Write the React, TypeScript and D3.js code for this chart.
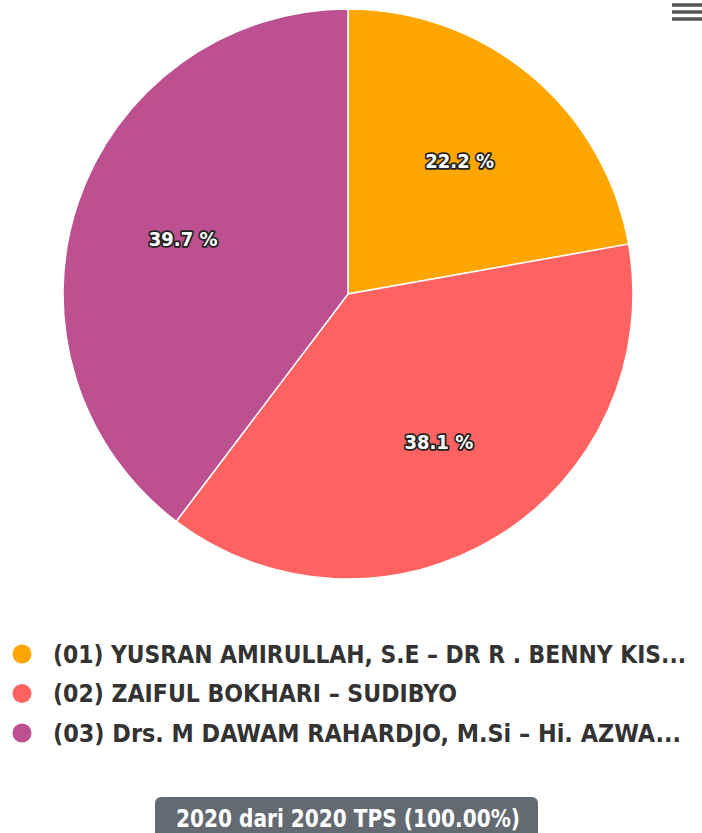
import { useMemo } from "react";
import * as d3 from "d3";

const NAMES = [
  "(01) YUSRAN AMIRULLAH, S.E – DR R . BENNY KIS...",
  "(02) ZAIFUL BOKHARI – SUDIBYO",
  "(03) Drs. M DAWAM RAHARDJO, M.Si – Hi. AZWA...",
];
const NAME_WIDTHS = [633, 404, 628];
const SHARES = [22.2, 38.1, 39.7];
const COLORS = ["#ffa600", "#ff6361", "#bc5090"];
const FOOTER = "2020 dari 2020 TPS (100.00%)";

const W = 702;
const H = 833;
const CX = 348;
const CY = 294;
const R = 285;
const FONT = "'Liberation Sans Narrow', 'DejaVu Sans Condensed', sans-serif";

export default function App() {
  const arcs = useMemo(
    () => d3.pie<number>().sort(null).value((d) => d)(SHARES),
    []
  );
  const arc = d3.arc<d3.PieArcDatum<number>>().innerRadius(0).outerRadius(R);
  const labelArc = d3
    .arc<d3.PieArcDatum<number>>()
    .innerRadius(R * 0.61)
    .outerRadius(R * 0.61);

  return (
    <svg
      width={W}
      height={H}
      style={{ position: "absolute", left: 0, top: 0, background: "#fff" }}
    >
      {/* menu icon */}
      {[5, 12, 19].map((y) => (
        <line key={y} x1={672} x2={702} y1={y} y2={y} stroke="#555" strokeWidth={3.5} />
      ))}

      <g transform={`translate(${CX},${CY})`}>
        {arcs.map((a, i) => (
          <path key={i} d={arc(a)!} fill={COLORS[i]} stroke="#fff" strokeWidth={1.5} />
        ))}
        {arcs.map((a, i) => {
          const [x, y] = labelArc.centroid(a);
          return (
            <text
              key={i}
              x={x}
              y={y}
              dy="0.35em"
              textAnchor="middle"
              fontFamily={FONT}
              fontWeight="bold"
              fontSize={20}
              fill="#fff"
              stroke="#222"
              strokeWidth={3.5}
              strokeLinejoin="round"
              style={{ paintOrder: "stroke" }}
            >
              {SHARES[i].toFixed(1)} %
            </text>
          );
        })}
      </g>

      {/* legend */}
      {NAMES.map((n, i) => {
        const y = 654 + i * 39.5;
        return (
          <g key={i}>
            <circle cx={22} cy={y} r={9.5} fill={COLORS[i]} />
            <text
              x={53}
              y={y}
              dy="0.36em"
              fontFamily={FONT}
              fontWeight="bold"
              fontSize={24}
              fill="#333"
              textLength={NAME_WIDTHS[i]}
              lengthAdjust="spacingAndGlyphs"
            >
              {n}
            </text>
          </g>
        );
      })}

      {/* footer badge */}
      <rect x={155} y={797} width={383} height={46} rx={6} fill="#636a71" />
      <text
        x={176}
        y={818}
        dy="0.36em"
        fontFamily={FONT}
        fontWeight="bold"
        fontSize={24}
        fill="#fff"
        textLength={344}
        lengthAdjust="spacingAndGlyphs"
      >
        {FOOTER}
      </text>
    </svg>
  );
}
